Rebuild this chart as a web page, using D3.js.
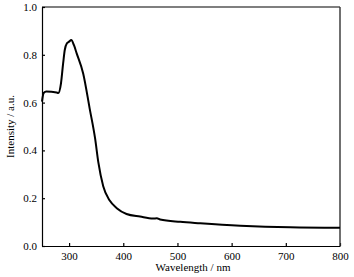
<!DOCTYPE html>
<html>
<head>
<meta charset="utf-8">
<script src="https://cdn.jsdelivr.net/npm/d3@7"></script>
<style>
  body { margin: 0; background: #fff; }
  svg text { font-family: "Times New Roman", "Liberation Serif", Tinos, "DejaVu Serif", serif; }
  .axis text { font-size: 11px; fill: #000; }
  .axis path, .axis line { stroke: #000; stroke-width: 1.2; }
  .axis-title { font-size: 11px; fill: #000; }
</style>
</head>
<body>
<div id="chart"></div>
<script>
// absorption spectrum
const wavelength = [250, 253, 258, 277, 280, 285, 289, 292, 296, 300, 304, 309, 314, 326, 338, 348, 354, 363, 375, 388, 406, 431, 455, 462, 468, 505, 542, 616, 708, 800]
const intensity = [0.604, 0.64, 0.646, 0.642, 0.64, 0.68, 0.764, 0.82, 0.848, 0.855, 0.862, 0.84, 0.806, 0.722, 0.575, 0.45, 0.35, 0.25, 0.19, 0.158, 0.134, 0.123, 0.115, 0.116, 0.111, 0.101, 0.095, 0.085, 0.078, 0.076]
const xTicks = [300, 400, 500, 600, 700, 800]
const yTicks = [0.0, 0.2, 0.4, 0.6, 0.8, 1.0]

const config = {
    containerWidth: 354,
    containerHeight: 277,
    margin: { top: 7, right: 14, bottom: 31, left: 42 }
}
const width = config.containerWidth - config.margin.left - config.margin.right
const height = config.containerHeight - config.margin.top - config.margin.bottom

const data = wavelength.map((w, i) => ({ w: w, v: intensity[i] }))

const svg = d3.select('#chart').append('svg')
    .attr('width', config.containerWidth)
    .attr('height', config.containerHeight)
    .attr('font-family', '"Times New Roman", "Liberation Serif", serif')

const chart = svg.append('g')
    .attr('transform', `translate(${config.margin.left},${config.margin.top})`)

const xScale = d3.scaleLinear().domain([250, 800]).range([0, width])
const yScale = d3.scaleLinear().domain([0, 1]).range([height, 0])

// ticks point inward
const xAxis = d3.axisBottom(xScale).tickValues(xTicks).tickSize(-3).tickSizeOuter(0).tickPadding(6)
const yAxis = d3.axisLeft(yScale).tickValues(yTicks).tickSize(-3).tickSizeOuter(0).tickPadding(5)
    .tickFormat(d3.format('.1f'))

chart.append('g')
    .attr('class', 'axis x-axis')
    .attr('transform', `translate(0,${height})`)
    .call(xAxis)
    .attr('font-family', null)

chart.append('g')
    .attr('class', 'axis y-axis')
    .call(yAxis)
    .attr('font-family', null)

// frame: top and right edges
chart.append('line')
    .attr('x1', 0).attr('x2', width).attr('y1', 0).attr('y2', 0)
    .attr('stroke', '#000').attr('stroke-width', 1.2)
chart.append('line')
    .attr('x1', width).attr('x2', width).attr('y1', 0).attr('y2', height)
    .attr('stroke', '#333').attr('stroke-width', 1.4)

const line = d3.line()
    .x(d => xScale(d.w))
    .y(d => yScale(d.v))
    .curve(d3.curveMonotoneX)

chart.append('path')
    .datum(data)
    .attr('fill', 'none')
    .attr('stroke', '#000')
    .attr('stroke-width', 2)
    .attr('stroke-linejoin', 'round')
    .attr('d', line)

// axis titles
svg.append('text')
    .attr('class', 'axis-title')
    .attr('text-anchor', 'middle')
    .attr('x', config.margin.left + width / 2 + 2)
    .attr('y', 271)
    .text('Wavelength / nm')

svg.append('text')
    .attr('class', 'axis-title')
    .attr('text-anchor', 'middle')
    .attr('transform', `translate(14,${config.margin.top + height / 2}) rotate(-90)`)
    .text('Intensity / a.u.')
</script>
</body>
</html>
